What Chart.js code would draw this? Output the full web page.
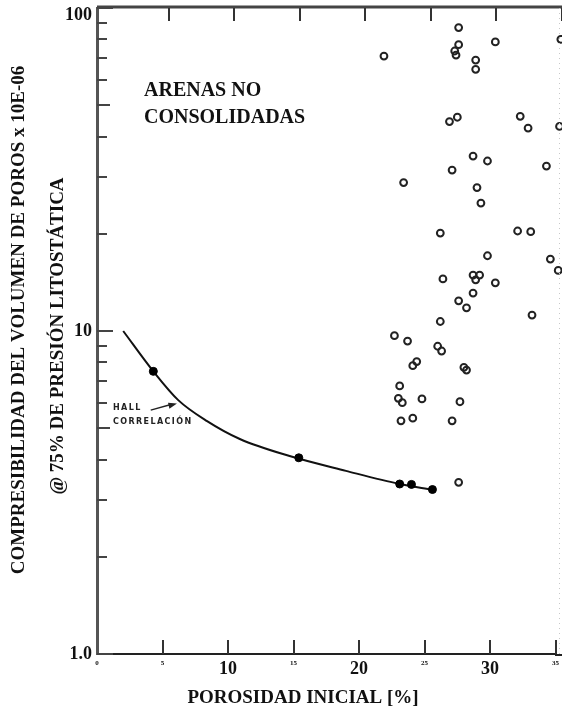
<!DOCTYPE html>
<html>
<head>
<meta charset="utf-8">
<script src="https://cdn.jsdelivr.net/npm/chart.js@4.4.1/dist/chart.umd.min.js"></script>
<style>
  html, body { margin: 0; padding: 0; background: #fff; }
  canvas { display: block; }
</style>
</head>
<body>
<canvas id="chart" width="562" height="714"></canvas>
<script>
'use strict';

// ─── Data ─────────────────────────────────────────────────────
// unconsolidated sands, measured samples (open circles)
const sandPorosity = [
    21.9, 27.6, 27.6, 27.3, 27.4, 30.4, 35.4, 28.9, 28.9,
    27.5, 26.9, 32.3, 32.9, 35.3, 28.7, 29.8, 27.1, 34.3,
    23.4, 29.0, 29.3, 26.2, 32.1, 33.1, 29.8, 34.6, 35.2,
    26.4, 28.7, 29.2, 28.9, 30.4, 28.7, 27.6, 28.2, 33.2,
    26.2, 22.7, 23.7, 26.0, 26.3, 24.4, 24.1, 28.0, 28.2,
    23.1, 23.0, 23.3, 24.8, 27.7, 23.2, 24.1, 27.1, 27.6
];
const sandCompress = [
    71.0, 87.0, 77.0, 73.6, 71.5, 78.5, 80.0, 69.0, 64.6,
    45.9, 44.5, 46.2, 42.5, 43.0, 34.8, 33.6, 31.5, 32.4,
    28.8, 27.8, 24.9, 20.1, 20.4, 20.3, 17.1, 16.7, 15.4,
    14.5, 14.9, 14.9, 14.4, 14.1, 13.1, 12.4, 11.8, 11.2,
    10.7, 9.67, 9.31, 8.97, 8.67, 8.04, 7.81, 7.72, 7.57,
    6.76, 6.19, 6.00, 6.16, 6.04, 5.27, 5.37, 5.27, 3.40
];

// Hall correlation, filled points
const hallPorosity = [4.3, 15.4, 23.1, 24.0, 25.6];
const hallCompress = [7.5, 4.05, 3.36, 3.35, 3.23];

// Hall correlation curve (traced)
const curvePorosity = [2.0, 4.3, 6.2, 8.4, 10.9, 14.7, 19.0, 23.1, 25.6];
const curveCompress = [10.0, 7.5, 6.11, 5.26, 4.63, 4.10, 3.69, 3.36, 3.22];

// axes (the scan is cropped just past 35 %)
const xTickValues = [0, 5, 10, 15, 20, 25, 30, 35];
const xMax = 35.03;
const yTickValues = [1, 2, 3, 4, 5, 6, 7, 8, 9, 10, 20, 30, 40, 50, 60, 70, 80, 90, 100];
const yMajorValues = [1, 10, 100];
const yMajorText = ['1.0', '10', '100'];

const SERIF = '"Liberation Serif", "DejaVu Serif", serif';

function toPoints(xs, ys) {
    return xs.map((x, i) => ({ x, y: ys[i] }));
}

function strokeLine(ctx, x1, y1, x2, y2) {
    ctx.beginPath();
    ctx.moveTo(x1, y1);
    ctx.lineTo(x2, y2);
    ctx.stroke();
}

// ─── Frame, inner tick marks and free text ────────────────────
const paperPlugin = {
    id: 'paper',
    afterDraw(chart) {
        const { ctx, chartArea: a, scales: { x, y } } = chart;
        const edge = chart.width;
        ctx.save();

        // bottom rule carried to the cropped edge
        ctx.strokeStyle = '#222';
        ctx.lineWidth = 2;
        strokeLine(ctx, a.right - 1, a.bottom + 1, edge, a.bottom + 1);

        // top rule
        ctx.strokeStyle = '#444';
        ctx.lineWidth = 3;
        strokeLine(ctx, a.left, a.top - 1, edge, a.top - 1);

        // faint dotted right edge
        ctx.strokeStyle = '#c8c8c8';
        ctx.lineWidth = 1;
        ctx.setLineDash([1, 4]);
        strokeLine(ctx, edge - 2.5, a.top, edge - 2.5, a.bottom);
        ctx.setLineDash([]);

        // x tick marks, bottom up / top down (top ones sit a bit off in the scan)
        ctx.strokeStyle = '#333';
        ctx.lineWidth = 2;
        xTickValues.forEach(v => {
            if (v === 0) return;
            const px = Math.round(x.getPixelForValue(v));
            strokeLine(ctx, px, a.bottom, px, a.bottom - 14);
            strokeLine(ctx, px + 6, a.top, px + 6, a.top + 13);
        });

        // y tick marks, pointing into the plot
        ctx.strokeStyle = '#444';
        y.ticks.forEach(t => {
            const v = t.value;
            const py = Math.round(y.getPixelForValue(v));
            const lead = v / Math.pow(10, Math.floor(Math.log10(v) + 1e-9));
            const len = Math.abs(lead - 1) < 1e-6 ? 16 : (Math.abs(lead - 5) < 1e-6 ? 13 : 10);
            strokeLine(ctx, a.left, py, a.left + len, py);
        });

        ctx.fillStyle = '#111';

        // inset label
        ctx.font = 'bold 20px ' + SERIF;
        ctx.textAlign = 'left';
        ctx.textBaseline = 'middle';
        ctx.fillText('ARENAS NO', 144, 91);
        ctx.fillText('CONSOLIDADAS', 144, 118);

        // x title
        ctx.font = 'bold 19px ' + SERIF;
        ctx.textAlign = 'center';
        ctx.fillText('POROSIDAD INICIAL [%]', 303, 698);

        // y title, two rotated lines
        ctx.save();
        ctx.translate(19, 320);
        ctx.rotate(-Math.PI / 2);
        ctx.fillText('COMPRESIBILIDAD DEL VOLUMEN DE POROS x 10E-06', 0, 0);
        ctx.restore();
        ctx.save();
        ctx.translate(58, 336);
        ctx.rotate(-Math.PI / 2);
        ctx.fillText('@ 75% DE PRESIÓN LITOSTÁTICA', 0, 0);
        ctx.restore();

        // Hall correlation callout, anchored in data space
        const lx = x.getPixelForValue(1.22);
        ctx.font = 'bold 8px "DejaVu Sans", sans-serif';
        ctx.letterSpacing = '1.4px';
        ctx.textAlign = 'left';
        ctx.fillStyle = '#222';
        ctx.fillText('HALL', lx, y.getPixelForValue(5.78));
        ctx.fillText('CORRELACIÓN', lx, y.getPixelForValue(5.23));
        ctx.letterSpacing = '0px';

        const ax1 = x.getPixelForValue(4.1), ay1 = y.getPixelForValue(5.69);
        const ax2 = x.getPixelForValue(6.1), ay2 = y.getPixelForValue(5.96);
        ctx.strokeStyle = '#222';
        ctx.lineWidth = 1.5;
        strokeLine(ctx, ax1, ay1, ax2 - 6, ay2 + 1);
        const ang = Math.atan2(ay2 - ay1, ax2 - ax1);
        ctx.beginPath();
        ctx.moveTo(ax2, ay2);
        ctx.lineTo(ax2 - 9 * Math.cos(ang - 0.35), ay2 - 9 * Math.sin(ang - 0.35));
        ctx.lineTo(ax2 - 9 * Math.cos(ang + 0.35), ay2 - 9 * Math.sin(ang + 0.35));
        ctx.closePath();
        ctx.fill();

        ctx.restore();
    }
};

// ─── Chart ────────────────────────────────────────────────────
const chart = new Chart(document.getElementById('chart'), {
    type: 'scatter',
    data: {
        datasets: [
            {
                label: 'Hall curve',
                data: toPoints(curvePorosity, curveCompress),
                showLine: true,
                borderColor: '#111',
                borderWidth: 2,
                pointRadius: 0,
                cubicInterpolationMode: 'monotone',
                order: 2
            },
            {
                label: 'Hall',
                data: toPoints(hallPorosity, hallCompress),
                pointRadius: 4,
                pointBackgroundColor: '#000',
                pointBorderColor: '#000',
                pointBorderWidth: 1,
                order: 1
            },
            {
                label: 'Arenas no consolidadas',
                data: toPoints(sandPorosity, sandCompress),
                pointRadius: 3.4,
                pointBackgroundColor: 'rgba(255,255,255,0)',
                pointBorderColor: '#222',
                pointBorderWidth: 2,
                clip: false,
                order: 0
            }
        ]
    },
    options: {
        responsive: false,
        animation: false,
        layout: { padding: { top: 8, right: 0, left: 0, bottom: 0 } },
        plugins: {
            legend: { display: false },
            tooltip: { enabled: false }
        },
        scales: {
            x: {
                type: 'linear',
                min: 0,
                max: xMax,
                afterFit: s => { s.height = 60; s.paddingLeft = 0; s.paddingRight = 0; },
                afterBuildTicks: s => { s.ticks = xTickValues.map(v => ({ value: v })); },
                grid: { display: false, drawTicks: false },
                border: { display: true, color: '#222', width: 2 },
                ticks: {
                    padding: 5,
                    autoSkip: false,
                    maxRotation: 0,
                    color: '#111',
                    callback: v => String(v),
                    font: c => (c.tick && c.tick.value > 0 && c.tick.value % 10 === 0)
                        ? { family: SERIF, size: 18, weight: 'bold' }
                        : { family: SERIF, size: 7, weight: 'bold' }
                }
            },
            y: {
                type: 'logarithmic',
                min: 1,
                max: 100,
                afterFit: s => { s.width = 97; s.paddingTop = 0; s.paddingBottom = 0; },
                afterBuildTicks: s => { s.ticks = yTickValues.map(v => ({ value: v })); },
                grid: { display: false, drawTicks: false },
                border: { display: true, color: '#555', width: 3 },
                ticks: {
                    padding: 5,
                    autoSkip: false,
                    color: '#111',
                    font: { family: SERIF, size: 18, weight: 'bold', lineHeight: 0.8 },
                    callback: v => {
                        const i = yMajorValues.indexOf(v);
                        if (i < 0) return '';
                        // the top label sits just under the frame in the scan
                        return v === 100 ? ['', yMajorText[i]] : yMajorText[i];
                    }
                }
            }
        }
    },
    plugins: [paperPlugin]
});
</script>
</body>
</html>
